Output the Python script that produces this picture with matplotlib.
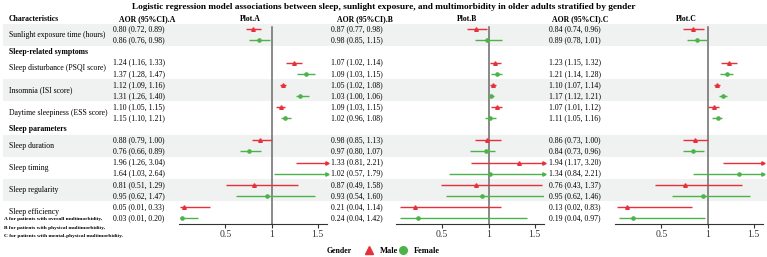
import numpy as np
import matplotlib
matplotlib.use('Agg')
import matplotlib.pyplot as plt
from matplotlib.lines import Line2D

plt.rcParams['font.family'] = ['Liberation Serif', 'DejaVu Serif']

# ---- data -------------------------------------------------------------
characteristics = ["Sunlight exposure time (hours)", "Sleep disturbance (PSQI score)",
                   "Insomnia (ISI score)", "Daytime sleepiness (ESS score)",
                   "Sleep duration", "Sleep timing", "Sleep regularity", "Sleep efficiency"]
# group heading shown before the characteristic with this index
group_headings = {1: "Sleep-related symptoms", 4: "Sleep parameters"}

# A: overall multimorbidity
a_male = [0.80, 1.24, 1.12, 1.10, 0.88, 1.96, 0.81, 0.05]
a_male_lo = [0.72, 1.16, 1.09, 1.05, 0.79, 1.26, 0.51, 0.01]
a_male_hi = [0.89, 1.33, 1.16, 1.15, 1.00, 3.04, 1.29, 0.33]
a_female = [0.86, 1.37, 1.31, 1.15, 0.76, 1.64, 0.95, 0.03]
a_female_lo = [0.76, 1.28, 1.26, 1.10, 0.66, 1.03, 0.62, 0.01]
a_female_hi = [0.98, 1.47, 1.40, 1.21, 0.89, 2.64, 1.47, 0.20]

# B: physical multimorbidity
b_male = [0.87, 1.07, 1.05, 1.09, 0.98, 1.33, 0.87, 0.21]
b_male_lo = [0.77, 1.02, 1.02, 1.03, 0.85, 0.81, 0.49, 0.04]
b_male_hi = [0.98, 1.14, 1.08, 1.15, 1.13, 2.21, 1.58, 1.14]
b_female = [0.98, 1.09, 1.03, 1.02, 0.97, 1.02, 0.93, 0.24]
b_female_lo = [0.85, 1.03, 1.00, 0.96, 0.80, 0.57, 0.54, 0.04]
b_female_hi = [1.15, 1.15, 1.06, 1.08, 1.07, 1.79, 1.60, 1.42]

# C: mental-physical multimorbidity
c_male = [0.84, 1.23, 1.10, 1.07, 0.86, 1.94, 0.76, 0.13]
c_male_lo = [0.74, 1.15, 1.07, 1.01, 0.73, 1.17, 0.43, 0.02]
c_male_hi = [0.96, 1.32, 1.14, 1.12, 1.00, 3.20, 1.37, 0.83]
c_female = [0.89, 1.21, 1.17, 1.11, 0.84, 1.34, 0.95, 0.19]
c_female_lo = [0.78, 1.14, 1.12, 1.05, 0.73, 0.84, 0.62, 0.04]
c_female_hi = [1.01, 1.28, 1.21, 1.16, 0.96, 2.21, 1.46, 0.97]

x_ticks = [0.5, 1, 1.5]
x_ticklabels = ["0.5", "1", "1.5"]
footnotes = ["A for patients with overall multimorbidity,",
             "B for patients with physical multimorbidity,",
             "C for patients with mental-physical multimorbidity."]
title = ("Logistic regression model associations between sleep, sunlight exposure, "
         "and multimorbidity in older adults stratified by gender")

# ---- layout (pixels) ---------------------------------------------------
W, H = 767, 257
ROW0, ROWH = 29.3, 11.1
MALE_C, FEMALE_C = '#e8303a', '#4cb34a'
SHADE = '#eff2f0'
XLIM = (0, 1.6)

panels = [
    ("A", a_male, a_male_lo, a_male_hi, a_female, a_female_lo, a_female_hi, 113, 147, 179, 327),
    ("B", b_male, b_male_lo, b_male_hi, b_female, b_female_lo, b_female_hi, 331, 365, 396, 544),
    ("C", c_male, c_male_lo, c_male_hi, c_female, c_female_lo, c_female_hi, 549, 580, 615, 763),
]

# row index of each table line
rows = []  # (kind, text, char_index)
for i, name in enumerate(characteristics):
    if i in group_headings:
        rows.append(("group", group_headings[i], None))
    rows.append(("male", name, i))
    rows.append(("female", name, i))
n_rows = len(rows)


def ypix(r):
    return ROW0 + r * ROWH


fig = plt.figure(figsize=(W / 100, H / 100), dpi=100)
bg = fig.add_axes([0, 0, 1, 1], zorder=0)
bg.set_xlim(0, W)
bg.set_ylim(H, 0)
bg.axis('off')

fs = 5.6
fs_head = 5.6

# shading: alternate per characteristic
for i in range(len(characteristics)):
    if i % 2 == 0:
        r = [k for k, row in enumerate(rows) if row[2] == i]
        bg.axhspan(ypix(r[0]) - ROWH / 2, ypix(r[-1]) + ROWH / 2, xmin=3 / W, xmax=1,
                   color=SHADE, lw=0, zorder=0)

bg.text(W / 2, 7, title, ha='center', va='center', fontsize=6.7, fontweight='bold')
bg.text(9, 19, "Characteristics", ha='left', va='center', fontsize=fs_head, fontweight='bold')

for r, (kind, text, ci) in enumerate(rows):
    if kind == "group":
        bg.text(9, ypix(r), text, ha='left', va='center', fontsize=fs, fontweight='bold')
    elif kind == "male":
        bg.text(9, ypix(r) + ROWH / 2, text, ha='left', va='center', fontsize=fs)

for f_i, note in enumerate(footnotes):
    bg.text(4, 219 + f_i * 8.5, note, ha='left', va='center', fontsize=3.9, fontweight='bold')

for (tag, m, mlo, mhi, f, flo, fhi, tx, hx, x0, x1) in panels:
    bg.text(hx, 19, f"AOR (95%CI).{tag}", ha='center', va='center', fontsize=fs_head,
            fontweight='bold')
    bg.text((x0 + x1) / 2 - 3, 19, f"Plot.{tag}", ha='center', va='center', fontsize=fs_head,
            fontweight='bold')

    top = ypix(0) - ROWH / 2
    bot = ypix(n_rows - 1) + ROWH / 2
    ax = fig.add_axes([x0 / W, 1 - bot / H, (x1 - x0) / W, (bot - top) / H], zorder=2)
    ax.patch.set_alpha(0)
    ax.set_xlim(*XLIM)
    ax.set_ylim(n_rows - 0.5, -0.5)
    ax.plot([1, 1], [-0.25, n_rows - 0.5], color='#6a6a6a', lw=1.1, zorder=1)

    for r, (kind, text, ci) in enumerate(rows):
        if kind == "group":
            continue
        if kind == "male":
            est, lo, hi, col, mk, ms = m[ci], mlo[ci], mhi[ci], MALE_C, '^', 2.6
        else:
            est, lo, hi, col, mk, ms = f[ci], flo[ci], fhi[ci], FEMALE_C, 'o', 2.3
        bg.text(tx, ypix(r), f"{est:.2f} ({lo:.2f}, {hi:.2f})", ha='left', va='center',
                fontsize=fs)
        ax.plot([max(lo, XLIM[0]), min(hi, XLIM[1])], [r, r], color=col, lw=1.0,
                solid_capstyle='butt', zorder=2)
        if XLIM[0] <= est <= XLIM[1]:
            ax.plot([est], [r], marker=mk, ms=ms, color=col, lw=0, zorder=3)
        if hi > XLIM[1]:
            ax.plot([XLIM[1]], [r], marker='>', ms=2.4, color=col, lw=0, zorder=3,
                    clip_on=False)

    for s in ['top', 'right', 'left']:
        ax.spines[s].set_visible(False)
    ax.spines['bottom'].set_color('#333333')
    ax.spines['bottom'].set_linewidth(0.8)
    ax.set_yticks([])
    ax.set_xticks(x_ticks)
    ax.set_xticklabels(x_ticklabels, fontsize=7, color='#333333')
    ax.tick_params(axis='x', length=3.2, width=0.8, color='#333333', pad=1.5)

# legend
bg.text(327, 250.7, "Gender", ha='left', va='center', fontsize=fs, fontweight='bold')
handles = [Line2D([], [], color=MALE_C, marker='^', lw=0, ms=5.5, label='Male'),
           Line2D([], [], color=FEMALE_C, marker='o', lw=0, ms=5.5, label='Female')]
fig.legend(handles=handles, loc='center left', bbox_to_anchor=(366 / W, 1 - 250.7 / H),
           ncol=2, frameon=False, handletextpad=0.9, columnspacing=0.1, handlelength=0.8,
           borderaxespad=0, borderpad=0, prop={'size': 6, 'weight': 'bold'})

fig.savefig('out.png', dpi=100)
